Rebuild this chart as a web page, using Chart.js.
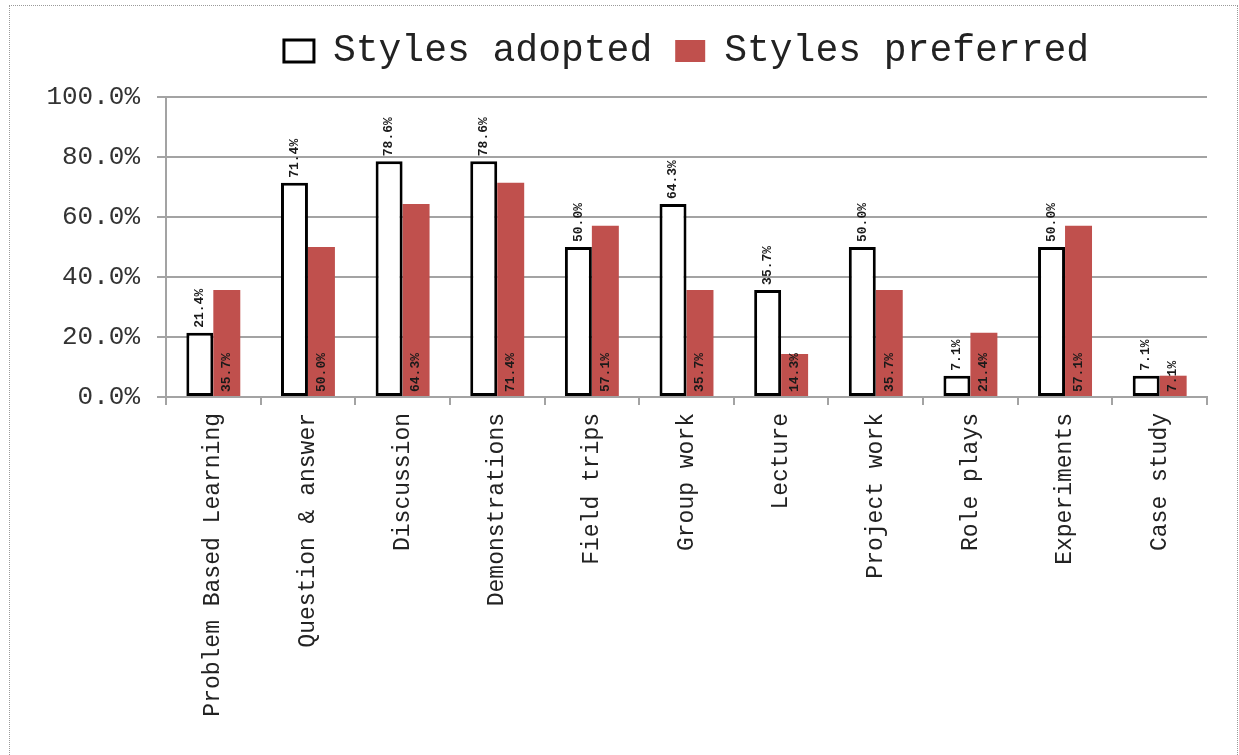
<!DOCTYPE html>
<html><head><meta charset="utf-8">
<script src="https://cdn.jsdelivr.net/npm/chart.js@4.4.0/dist/chart.umd.min.js"></script>
<style>
html,body{margin:0;padding:0;background:#fff;}
#wrap{position:relative;width:1239px;height:755px;overflow:hidden;}
#frame{position:absolute;left:9px;top:5px;width:1227px;height:800px;border:1px dotted #9a9a9a;}
canvas{position:absolute;left:0;top:0;}
</style></head><body>
<div id="wrap"><div id="frame"></div><canvas id="c" width="1239" height="755"></canvas></div>
<script>
const categories = ['Problem Based Learning', 'Question & answer', 'Discussion', 'Demonstrations', 'Field trips', 'Group work', 'Lecture', 'Project work', 'Role plays', 'Experiments', 'Case study'];
const adopted = [21.4, 71.4, 78.6, 78.6, 50.0, 64.3, 35.7, 50.0, 7.1, 50.0, 7.1];
const preferred = [35.7, 50.0, 64.3, 71.4, 57.1, 35.7, 14.3, 35.7, 21.4, 57.1, 7.1];
const seriesNames = ['Styles adopted', 'Styles preferred'];
const yMin = 0, yMax = 100, yStep = 20;

const MONO = '"Liberation Mono", "Courier New", monospace';
const GRID = '#a3a3a3';

const barLabels = {
  id: 'barLabels',
  afterDatasetsDraw(chart) {
    const ctx = chart.ctx;
    ctx.save();
    ctx.font = 'bold 13px ' + MONO;
    ctx.fillStyle = '#1a1a1a';
    ctx.textBaseline = 'middle';
    ctx.textAlign = 'left';
    chart.data.datasets.forEach((ds, di) => {
      const meta = chart.getDatasetMeta(di);
      meta.data.forEach((bar, i) => {
        const txt = ds.data[i].toFixed(1) + '%';
        const y0 = di === 0 ? bar.y - 5 : bar.base - 4;
        ctx.save();
        ctx.translate(bar.x, y0);
        ctx.rotate(-Math.PI / 2);
        ctx.fillText(txt, 0, 0);
        ctx.restore();
      });
    });
    ctx.restore();
  }
};

const legendGap = {
  id: 'legendGap',
  beforeInit(chart) {
    const box = {
      position: 'top', weight: 100, fullSize: false, options: {},
      top: 0, left: 0, right: 0, bottom: 0, width: 0, height: 0,
      update(maxWidth) { this.width = maxWidth; this.height = 17; return this.height; },
      isHorizontal() { return true; },
      draw() {}
    };
    Chart.layouts.addBox(chart, box);
  }
};

new Chart(document.getElementById('c'), {
  type: 'bar',
  data: {
    labels: categories,
    datasets: [
      { label: seriesNames[0], data: adopted, backgroundColor: '#ffffff', borderColor: '#000000', borderWidth: 3, borderSkipped: false,
        categoryPercentage: 0.57, barPercentage: 1.0 },
      { label: seriesNames[1], data: preferred, backgroundColor: '#C0504D', borderWidth: 0,
        categoryPercentage: 0.57, barPercentage: 1.0 }
    ]
  },
  options: {
    responsive: false,
    devicePixelRatio: 1,
    animation: false,
    layout: { padding: { top: 9, left: 0, right: 32, bottom: 0 } },
    plugins: {
      tooltip: { enabled: false },
      legend: {
        position: 'top', fullSize: false,
        labels: { font: { family: MONO, size: 38 }, color: '#222', boxWidth: 30, boxHeight: 22, padding: 23 }
      }
    },
    scales: {
      x: {
        grid: { display: true, drawOnChartArea: false, drawTicks: true, tickLength: 8, color: GRID, lineWidth: 2, offset: true },
        border: { display: true, color: GRID, width: 2 },
        ticks: { autoSkip: false, minRotation: 90, maxRotation: 90, padding: 8, color: '#222', font: { family: MONO, size: 23 } },
        afterFit(scale) { scale.height = 358; }
      },
      y: {
        min: yMin, max: yMax,
        grid: { color: GRID, lineWidth: 2, drawTicks: true, tickLength: 9 },
        border: { display: true, color: GRID, width: 2 },
        ticks: { stepSize: yStep, padding: 17, color: '#333', font: { family: MONO, size: 26 },
          callback: (v) => v.toFixed(1) + '%' },
        afterFit(scale) { scale.width = 166; }
      }
    }
  },
  plugins: [legendGap, barLabels]
});
</script>
</body></html>
